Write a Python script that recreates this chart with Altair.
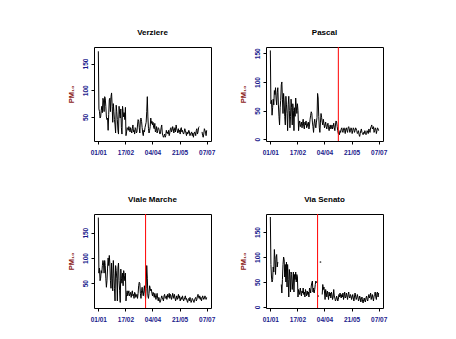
import altair as alt
import pandas as pd

N = None
titles = ["Verziere", "Pascal", "Viale Marche", "Via Senato"]
tick_days = [0, 47, 94, 141, 188]
tick_labels = ["01/01", "17/02", "04/04", "21/05", "07/07"]
red_days = [None, 118, 82, 82]
y_domains = [[5, 181], [-3, 161], [1, 187], [-2, 186]]
y_ticks = [[50, 100, 150], [0, 50, 100, 150], [50, 100, 150], [0, 50, 100, 150]]

verziere = [173,65,60,48,50,62,70,58,85,80,60,88,85,70,50,45,48,25,55,82,85,60,88,95,70,40,75,60,45,35,
            20,72,60,45,25,18,70,55,48,65,30,18,70,60,50,58,45,68,15,22,30,28,25,32,28,22,30,25,20,28,
            35,22,25,18,30,28,20,22,35,45,42,30,20,45,48,42,30,20,15,25,22,30,35,40,60,88,50,28,20,25,
            32,48,38,42,35,40,30,28,38,22,25,32,20,25,30,28,22,18,22,30,35,20,15,12,15,18,12,15,25,20,
            22,18,25,15,20,28,30,22,25,32,28,20,25,30,22,35,28,25,20,28,22,25,18,28,30,22,25,20,18,22,
            28,25,20,15,22,18,20,25,22,15,18,20,22,15,20,12,18,22,20,15,25,28,18,22,30,32,N,N,N,N,
            22,15,12,18,28,25,22,15,25]
pascal = [155,62,68,42,55,70,60,85,78,90,70,60,82,90,60,40,25,55,68,95,100,70,45,80,65,40,25,75,60,45,
          15,60,75,50,20,40,70,55,25,62,50,15,55,40,72,58,45,62,50,15,28,32,22,25,30,20,28,35,22,18,
          30,25,32,20,22,28,30,18,25,35,42,48,45,30,22,12,28,35,25,20,30,38,80,72,40,20,12,30,45,38,
          30,25,35,28,20,25,30,22,18,25,28,20,15,22,25,18,20,25,18,22,28,20,15,25,32,30,22,15,10,12,
          8,15,12,18,20,15,12,18,20,15,10,18,20,15,12,20,22,18,12,15,20,18,10,15,20,18,12,15,20,18,
          15,10,12,15,8,5,10,15,18,12,10,8,12,10,15,12,8,10,15,12,10,18,15,12,20,22,25,18,20,22,
          12,15,20,18,10,15,20,18,15]
marche = [180,70,80,55,60,75,70,85,95,88,70,95,85,60,42,55,80,100,85,105,90,55,40,90,60,35,95,70,40,15,
          85,75,60,15,80,90,55,35,12,78,60,50,70,45,75,65,55,70,15,28,35,25,30,35,25,28,32,22,30,35,
          25,28,20,32,30,22,25,28,20,30,45,52,50,30,20,35,42,30,25,35,45,30,20,40,85,60,25,20,30,45,
          40,35,38,30,25,32,28,22,30,25,18,25,30,20,15,22,18,12,15,20,25,22,18,15,25,28,20,22,25,18,
          28,22,25,30,20,28,25,18,22,30,25,20,28,22,15,20,25,18,22,28,20,25,15,20,22,18,25,20,15,18,
          22,25,18,20,15,12,18,20,15,22,18,12,15,20,18,15,12,18,20,22,15,18,25,28,22,20,25,18,22,15,
          20,25,22,18,20,25,22,18,22]
senato = [180,85,60,50,55,80,70,115,95,65,100,105,80,90,N,N,N,N,N,45,28,55,85,100,95,60,85,50,90,40,
          85,55,20,75,60,30,70,65,35,50,70,30,65,55,70,50,65,60,20,35,30,25,38,30,22,32,28,38,25,30,
          20,35,28,22,32,25,30,20,38,35,28,42,48,52,30,38,28,35,45,52,48,N,N,22,N,N,N,90,N,N,
          25,45,35,40,30,15,35,28,20,32,25,15,30,22,28,18,30,25,15,20,35,22,18,12,15,22,18,12,15,25,
          20,28,22,18,25,20,28,15,22,30,18,20,28,22,15,25,30,20,18,25,22,15,20,25,18,12,20,28,22,15,
          18,25,20,12,15,22,18,10,15,20,12,8,15,18,12,10,18,22,15,12,20,25,18,22,28,15,20,25,18,12,
          22,25,30,20,15,28,30,20,28]
series = [verziere, pascal, marche, senato]

label_expr = "{" + ",".join(f"'{d}':'{l}'" for d, l in zip(tick_days, tick_labels)) + "}[''+datum.value]"

def panel(i):
    vals = series[i]
    seg, rows = 0, []
    for d, v in enumerate(vals):
        if v is None:
            seg += 1
        else:
            rows.append({"day": d, "pm": v, "seg": seg})
    df = pd.DataFrame(rows)
    counts = df.groupby("seg")["day"].transform("count")
    lines_df = df[counts > 1]
    pts_df = df[counts == 1]
    x = alt.X("day:Q", scale=alt.Scale(domain=[-7.52, 195.52], nice=False, zero=False),
              axis=alt.Axis(values=tick_days, labelExpr=label_expr, title=None, labelColor="#1a1a8c",
                            labelPadding=5, labelFlush=False, labelOverlap=False))
    y = alt.Y("pm:Q", scale=alt.Scale(domain=y_domains[i], nice=False, zero=False),
              axis=alt.Axis(values=y_ticks[i], title="PM₁₀", labelAngle=270, labelColor="#1a1a8c",
                            labelAlign="center", labelBaseline="bottom", labelPadding=3,
                            labelOverlap=False, labelFlush=False,
                            titleColor="#8b1a1a", titlePadding=7, titleFontSize=7.5,
                            titleFontWeight="bold"))
    line = alt.Chart(lines_df).mark_line(color="black", strokeWidth=1).encode(x=x, y=y, detail="seg:N")
    layers = [line]
    if len(pts_df):
        layers.append(alt.Chart(pts_df).mark_circle(color="#333333", size=3, opacity=1).encode(x=x, y=y))
    if red_days[i] is not None:
        rdf = pd.DataFrame({"day": [red_days[i]]})
        layers.append(alt.Chart(rdf).mark_rule(color="red", strokeWidth=1).encode(x=x))
    return alt.layer(*layers).properties(
        width=117, height=94,
        title=alt.TitleParams(titles[i], fontSize=8, fontWeight="bold", font="Liberation Sans",
                              offset=10, anchor="middle"))

chart = alt.concat(*[panel(i) for i in range(4)], columns=2, spacing={"row": 39, "column": 22}).properties(
    padding={"left": 58, "top": 20, "right": 5, "bottom": 5}, background="white"
).configure_view(stroke="black", strokeWidth=1).configure_axis(
    grid=False, domain=False, tickColor="black", tickSize=3, labelFont="Liberation Sans",
    labelFontSize=6.5, labelFontWeight="bold", titleFont="Liberation Sans"
)

chart.save("out.html", embed_options={"renderer": "svg", "actions": False})
